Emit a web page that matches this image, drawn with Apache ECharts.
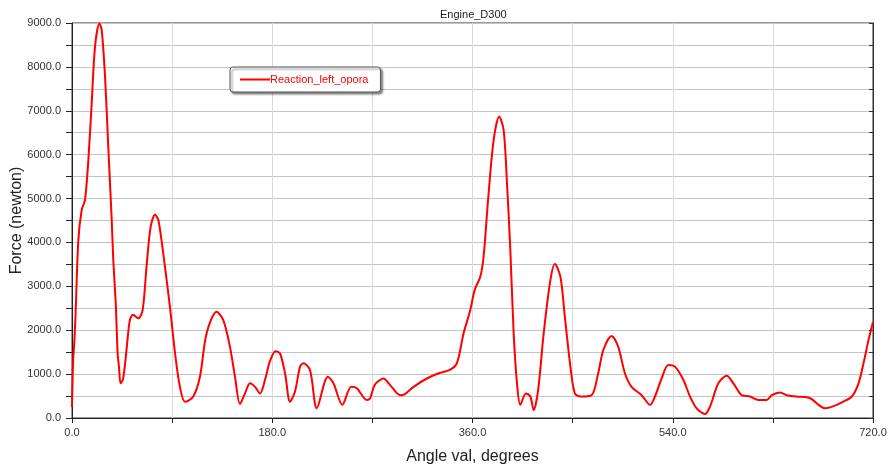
<!DOCTYPE html>
<html>
<head>
<meta charset="utf-8">
<title>Engine_D300</title>
<script src="https://cdn.jsdelivr.net/npm/echarts@6/dist/echarts.min.js"></script>
<style>
  html, body { margin: 0; padding: 0; background: #ffffff; }
  #chart { width: 892px; height: 469px; }
</style>
</head>
<body>
<div id="chart"></div>
<script>
// Reaction force on the left support over a full 720-degree engine cycle
const seriesName = 'Reaction_left_opora';

const angleDeg = [
  0, 1, 2, 3, 5.7, 8.7, 11.7, 14.7, 17.7, 20.7, 24.6, 26.7, 29.7, 32.6, 35.7, 37.1, 39.3, 41, 42.2, 43.7,
  46, 49, 52, 55, 59.6, 63.5, 67, 70.7, 74.6, 77.6, 82, 88, 92.6, 97, 101.6, 109, 115, 121, 130, 136,
  142, 146.5, 151, 155.5, 160, 164.5, 169, 173.5, 178, 183, 187, 191.5, 196, 200.4, 205, 208, 214, 220,
  230, 235, 243, 251, 256, 265, 268, 272, 280, 286, 295, 299, 307, 319, 331, 340, 346, 352, 358, 362,
  367, 370, 374, 379, 384, 388, 391, 394, 397, 400, 403, 408, 412, 415, 419, 424, 430, 434, 439, 443,
  448, 452, 457, 467, 473, 477.6, 485, 491, 497, 503, 512, 519.6, 524, 530, 536, 542, 549.5, 555.5,
  561.5, 569, 573.5, 581, 588.5, 594.5, 602, 609.5, 617, 624.5, 629, 636.5, 642.5, 651.5, 663.5, 671,
  677, 684.5, 693, 701, 707, 711.5, 716, 720
];

const forceN = [
  250, 1300, 1700, 2230, 4050, 4740, 4970, 5880, 7170, 8460, 8990, 8840, 7780, 6180, 4510, 3600, 2620, 1480, 1170, 790,
  900, 1550, 2230, 2350, 2270, 2460, 3450, 4360, 4630, 4510, 3750, 2540, 1480, 710, 370, 490, 940, 1930, 2420, 2230,
  1620, 940, 320, 560, 790, 710, 560, 870, 1300, 1520, 1470, 1020, 370, 600, 1170, 1250, 1090, 220,
  940, 790, 300, 710, 680, 410, 450, 750, 900, 750, 520, 540, 710, 900, 1030, 1100, 1250, 1930, 2460, 2920,
  3220, 3680, 4970, 6330, 6870, 6560, 5350, 3830, 1930, 790, 300, 560, 490, 180, 640, 1930, 3140, 3510, 3220, 2310,
  1170, 560, 490, 520, 1020, 1550, 1870, 1620, 1020, 710, 520, 300, 490, 900, 1210, 1170, 870, 490,
  220, 90, 260, 790, 960, 790, 520, 490, 410, 410, 520, 580, 520, 490, 450, 300,
  220, 270, 370, 490, 790, 1250, 1780, 2190
];

// Axis ranges and tick spacing
const xMin = 0, xMax = 720, xStep = 90, xLabelStep = 180;
const yMin = 0, yMax = 9000, yStep = 500, yLabelStep = 1000;

const points = angleDeg.map((a, i) => [a, forceN[i]]);
const fontFamily = '"Liberation Sans", Arial, sans-serif';

const chart = echarts.init(document.getElementById('chart'), null, { renderer: 'canvas' });

chart.setOption({
  animation: false,
  backgroundColor: '#ffffff',
  title: {
    text: 'Engine_D300',
    left: 435,
    top: 4,
    textStyle: { fontSize: 11, fontWeight: 'normal', color: '#222', fontFamily }
  },
  legend: {
    data: [seriesName],
    left: 230,
    top: 67,
    padding: [7, 12, 7, 10],
    itemWidth: 30,
    itemHeight: 2,
    icon: 'rect',
    itemGap: 0,
    backgroundColor: '#ffffff',
    borderColor: '#555',
    borderWidth: 1,
    borderRadius: 3,
    shadowColor: 'rgba(0,0,0,0.45)',
    shadowBlur: 2,
    shadowOffsetX: 2,
    shadowOffsetY: 2,
    textStyle: { color: '#ff0000', fontSize: 11, fontFamily, padding: [0, 0, 0, -5] }
  },
  grid: {
    left: 72,
    right: 19,
    top: 23,
    bottom: 51,
    containLabel: false,
    outerBoundsMode: 'none',
    show: true,
    borderColor: '#333',
    borderWidth: 1,
    backgroundColor: 'transparent'
  },
  xAxis: {
    type: 'value',
    min: xMin,
    max: xMax,
    interval: xStep,
    name: 'Angle val, degrees',
    nameLocation: 'middle',
    nameGap: 31,
    nameMoveOverlap: false,
    nameTextStyle: { fontSize: 16, color: '#222', fontFamily },
    axisLine: { show: true, lineStyle: { color: '#222', width: 1 } },
    axisTick: { show: true, length: 5, lineStyle: { color: '#222' } },
    axisLabel: {
      fontSize: 11,
      color: '#333',
      fontFamily,
      margin: 9,
      formatter: v => (v % xLabelStep === 0 ? v.toFixed(1) : '')
    },
    splitLine: { show: true, lineStyle: { color: '#dadada', width: 1 } }
  },
  yAxis: [
    {
      type: 'value',
      min: yMin,
      max: yMax,
      interval: yStep,
      name: 'Force (newton)',
      nameLocation: 'middle',
      nameGap: 47,
      nameMoveOverlap: false,
      nameTextStyle: { fontSize: 16, color: '#222', fontFamily },
      axisLine: { show: true, lineStyle: { color: '#222', width: 1 } },
      axisTick: { show: true, length: 6, lineStyle: { color: '#222' } },
      axisLabel: {
        fontSize: 11,
        color: '#333',
        fontFamily,
        margin: 11,
        formatter: v => (v % yLabelStep === 0 ? v.toFixed(1) : '')
      },
      splitLine: { show: true, lineStyle: { color: '#c4c4c4', width: 1 } }
    },
    {
      type: 'value',
      position: 'right',
      min: yMin,
      max: yMax,
      interval: yStep,
      axisLine: { show: true, lineStyle: { color: '#333', width: 1 } },
      axisTick: { show: true, inside: true, length: 4, lineStyle: { color: '#333' } },
      axisLabel: { show: false },
      splitLine: { show: false }
    }
  ],
  series: [
    {
      name: seriesName,
      type: 'line',
      data: points,
      smooth: 0.3,
      showSymbol: false,
      symbol: 'none',
      color: '#ff0000',
      lineStyle: { color: '#ff0000', width: 2 }
    }
  ]
});
</script>
</body>
</html>
